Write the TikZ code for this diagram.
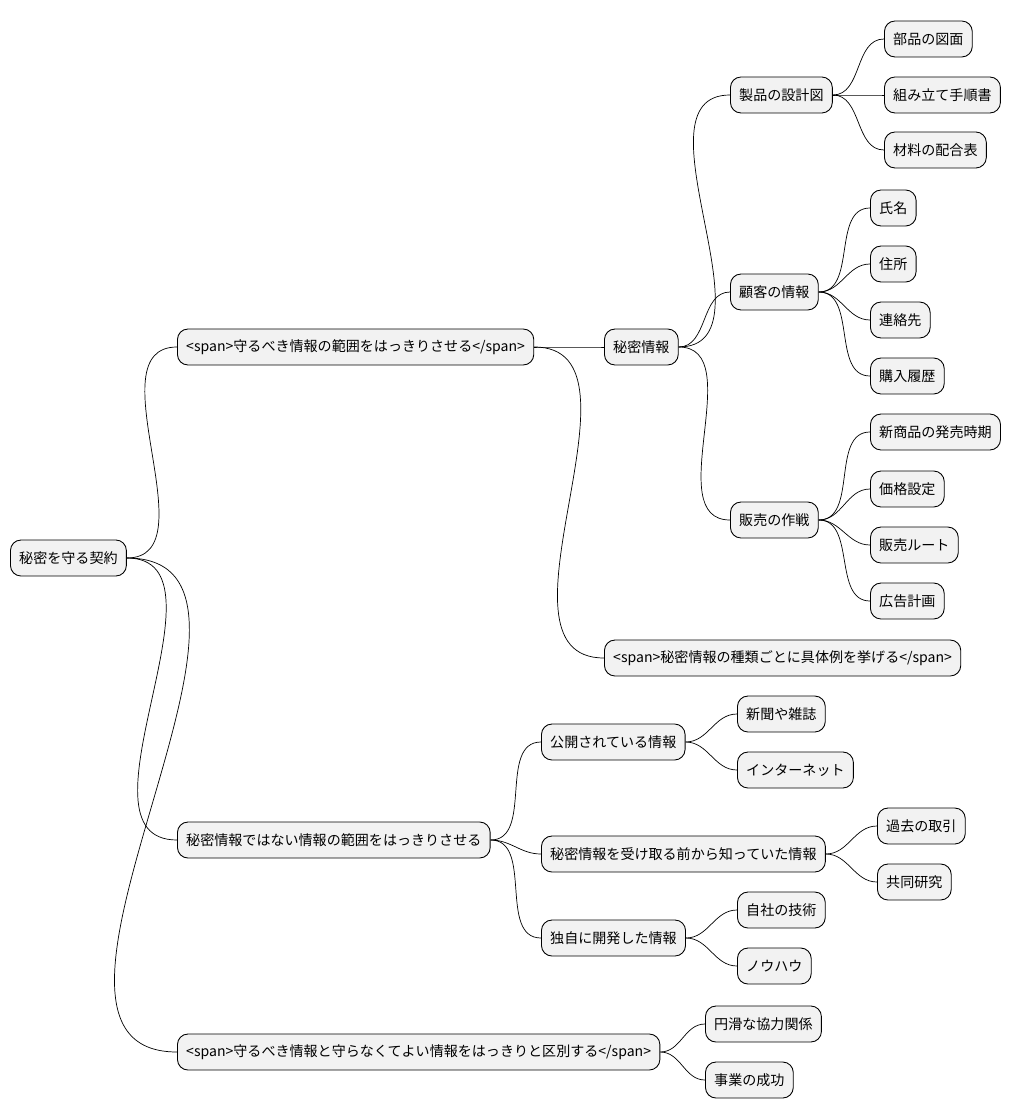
\documentclass[tikz,border=0pt]{standalone}
\usepackage{fontspec}
\setmainfont{Noto Sans CJK JP}
\usepackage{tikz}
\tikzstyle{box}=[draw=black, fill=gray!10, rounded corners=6pt, anchor=west, minimum height=0.72cm, inner xsep=5pt, font=\fontsize{8}{10}\selectfont, line width=0.5pt]
\tikzstyle{link}=[draw=black, line width=0.4pt]

\begin{document}
\begin{tikzpicture}[x=0.02cm, y=-0.02cm]
		   \useasboundingbox (0, 0) rectangle (1013, 1118);
		   \begin{scope}
			   \node (r) at (10, 558)[box] {秘密を守る契約};

			   \node (a) at (177, 347)[box] {<span>守るべき情報の範囲をはっきりさせる</span>};
			   \node (b) at (177, 840)[box] {秘密情報ではない情報の範囲をはっきりさせる};
			   \node (c) at (177, 1052)[box] {<span>守るべき情報と守らなくてよい情報をはっきりと区別する</span>};

			   \node (a1) at (604, 347)[box] {秘密情報};
			   \node (a2) at (604, 658)[box] {<span>秘密情報の種類ごとに具体例を挙げる</span>};

			   \node (a11) at (730, 95)[box] {製品の設計図};
			   \node (a12) at (730, 292)[box] {顧客の情報};
			   \node (a13) at (730, 520)[box] {販売の作戦};

			   \node (a111) at (884, 39)[box] {部品の図面};
			   \node (a112) at (884, 95)[box] {組み立て手順書};
			   \node (a113) at (884, 150)[box] {材料の配合表};

			   \node (a121) at (870, 208)[box] {氏名};
			   \node (a122) at (870, 264)[box] {住所};
			   \node (a123) at (870, 320)[box] {連絡先};
			   \node (a124) at (870, 376)[box] {購入履歴};

			   \node (a131) at (870, 432)[box] {新商品の発売時期};
			   \node (a132) at (870, 489)[box] {価格設定};
			   \node (a133) at (870, 545)[box] {販売ルート};
			   \node (a134) at (870, 601)[box] {広告計画};

			   \node (b1) at (541, 742)[box] {公開されている情報};
			   \node (b2) at (541, 854)[box] {秘密情報を受け取る前から知っていた情報};
			   \node (b3) at (541, 938)[box] {独自に開発した情報};

			   \node (b11) at (737, 714)[box] {新聞や雑誌};
			   \node (b12) at (737, 770)[box] {インターネット};
			   \node (b21) at (877, 826)[box] {過去の取引};
			   \node (b22) at (877, 882)[box] {共同研究};
			   \node (b31) at (737, 910)[box] {自社の技術};
			   \node (b32) at (737, 966)[box] {ノウハウ};

			   \node (c1) at (705, 1024)[box] {円滑な協力関係};
			   \node (c2) at (705, 1080)[box] {事業の成功};
		   \end{scope}
		   \begin{scope}
			   \foreach \p/\q in {r/a, r/b, r/c, a/a1, a/a2, a1/a11, a1/a12, a1/a13,
			       a11/a111, a11/a112, a11/a113, a12/a121, a12/a122, a12/a123, a12/a124,
			       a13/a131, a13/a132, a13/a133, a13/a134, b/b1, b/b2, b/b3,
			       b1/b11, b1/b12, b2/b21, b2/b22, b3/b31, b3/b32, c/c1, c/c2}
			       \path [link] (\p.east) to[out=0, in=180] (\q.west);
		   \end{scope}
	   \end{tikzpicture}
\end{document}
